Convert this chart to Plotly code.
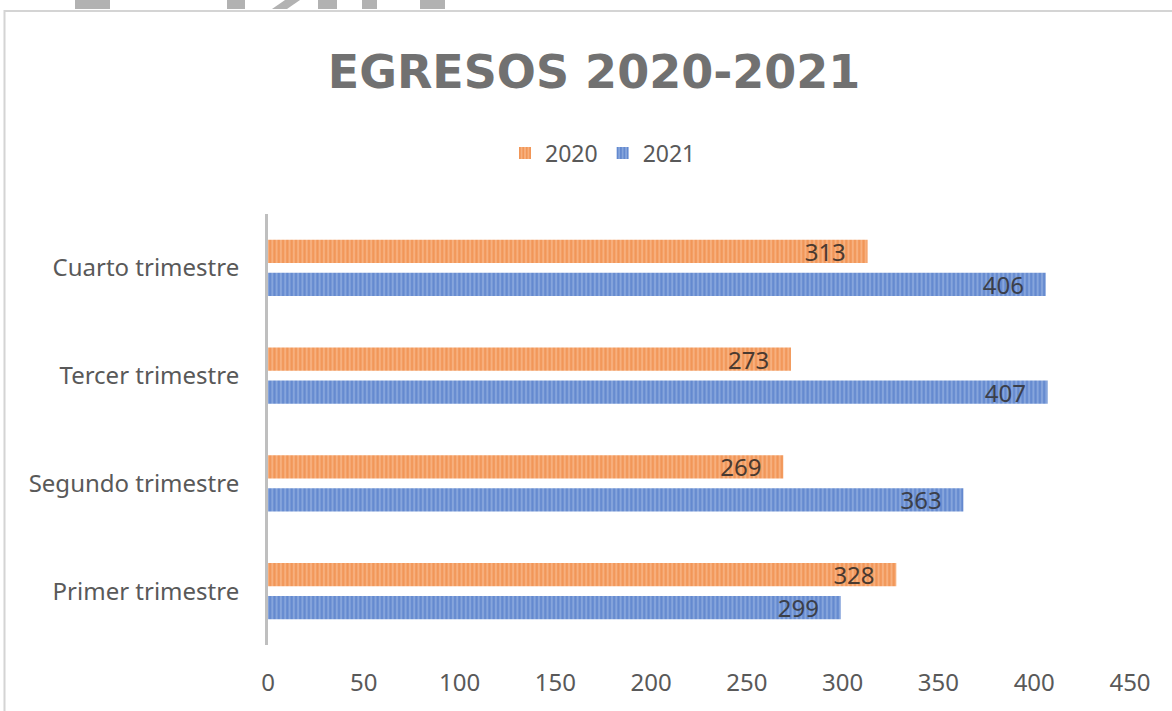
import plotly.graph_objects as go

categories = ["Primer trimestre", "Segundo trimestre", "Tercer trimestre", "Cuarto trimestre"]
values_2020 = [328, 269, 273, 313]
values_2021 = [299, 363, 407, 406]
x_ticks = [0, 50, 100, 150, 200, 250, 300, 350, 400, 450]
title_text = "EGRESOS 2020-2021"

W, H = 1172, 711
L, R, T, B = 268, 42, 214, 66
PW, PH = W - L - R, H - T - B


def px(x):
    return (x - L) / PW


def py(y):
    return (H - B - y) / PH


FONT = "Noto Sans"
label_tmpl = "%{x}\u00a0\u00a0\u00a0"

fig = go.Figure()
fig.add_trace(go.Bar(
    y=categories, x=values_2021, name="2021", orientation="h",
    marker=dict(color="#86A5DC", line=dict(width=0),
                pattern=dict(shape="|", fgcolor="#3F6DC2", bgcolor="#86A5DC", size=4.3, solidity=0.5)),
    texttemplate=label_tmpl, textposition="inside", insidetextanchor="end",
    constraintext="none", cliponaxis=False,
    insidetextfont=dict(family=FONT, size=24, color="#3B3F4A"),
))
fig.add_trace(go.Bar(
    y=categories, x=values_2020, name="2020", orientation="h",
    marker=dict(color="#F7B07E", line=dict(width=0),
                pattern=dict(shape="|", fgcolor="#EC7B2F", bgcolor="#F7B07E", size=4.3, solidity=0.5)),
    texttemplate=label_tmpl, textposition="inside", insidetextanchor="end",
    constraintext="none", cliponaxis=False,
    insidetextfont=dict(family=FONT, size=24, color="#4A3A30"),
))

shapes = []
# chart border
shapes.append(dict(type="rect", xref="paper", yref="paper",
                   x0=px(4.5), x1=px(1190), y0=py(11), y1=py(730),
                   line=dict(color="#D4D4D4", width=2), fillcolor="rgba(0,0,0,0)", layer="below"))
# watermark fragments at top edge
gray = "#B2B2B2"
for x0, x1 in [(75, 110), (227, 245), (318, 337), (362, 377), (420, 445)]:
    shapes.append(dict(type="rect", xref="paper", yref="paper",
                       x0=px(x0), x1=px(x1), y0=py(9), y1=py(0),
                       line=dict(width=0), fillcolor=gray))
shapes.append(dict(type="path", xref="paper", yref="paper",
                   path=f"M {px(272)} {py(9)} L {px(287)} {py(9)} L {px(300)} {py(0)} L {px(285)} {py(0)} Z",
                   line=dict(width=0), fillcolor=gray))

fig.update_layout(
    width=W, height=H,
    margin=dict(l=L, r=R, t=T, b=B),
    paper_bgcolor="white", plot_bgcolor="white",
    barmode="group", bargap=0.387, bargroupgap=0.30,
    title=dict(text=f"<b>{title_text}</b>", x=594 / W, xref="container", xanchor="center",
               y=1 - 72 / H, yref="container", yanchor="middle",
               font=dict(family="DejaVu Sans", size=46, color="#717171")),
    legend=dict(orientation="h", traceorder="reversed", x=603 / W, xanchor="center",
                y=1 - 153 / H, yanchor="middle", xref="container", yref="container",
                font=dict(family=FONT, size=23, color="#595959"), itemwidth=30),
    xaxis=dict(range=[0, 450], tickvals=x_ticks, ticktext=[str(v) for v in x_ticks],
               showgrid=False, zeroline=False, showline=False, ticks="",
               tickfont=dict(family=FONT, size=24, color="#595959"), ticklabelstandoff=21),
    yaxis=dict(type="category", categoryorder="array", categoryarray=categories,
               showgrid=False, zeroline=False, showline=True, linecolor="#BFBFBF", linewidth=3,
               ticks="", tickfont=dict(family=FONT, size=24, color="#595959"), ticklabelstandoff=21),
    shapes=shapes,
    showlegend=True,
)

fig.write_html("out.html", config={"displayModeBar": False},
               post_script="document.body.style.margin='0';document.body.style.padding='0';")
